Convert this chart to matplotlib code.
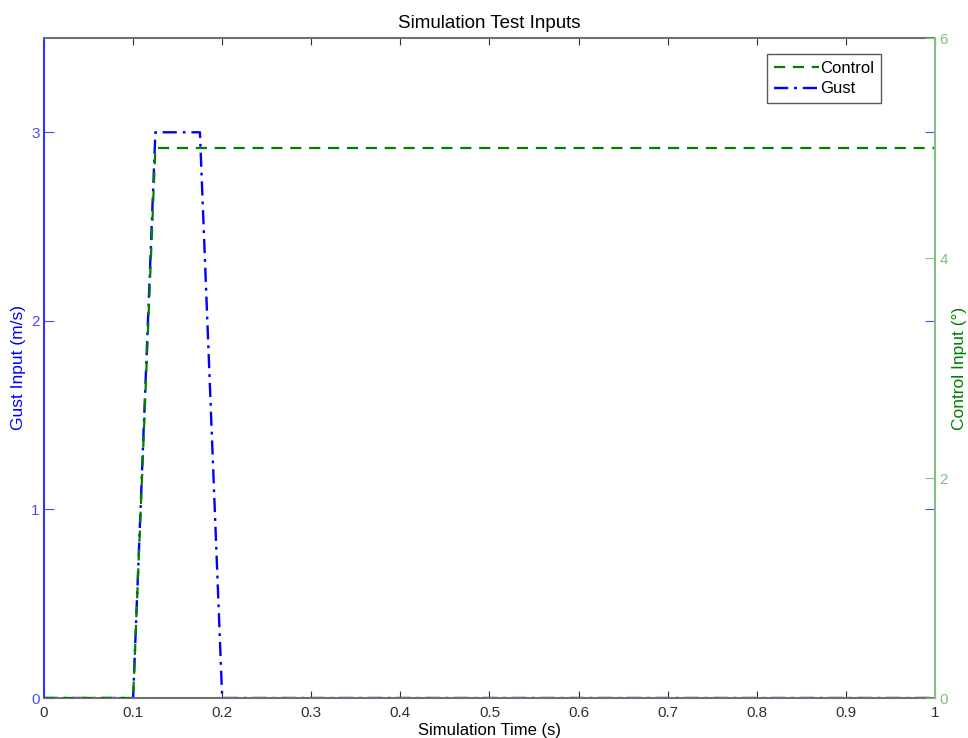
import matplotlib
matplotlib.use("Agg")
import matplotlib.pyplot as plt

plt.rcParams['font.family'] = ['Liberation Sans', 'DejaVu Sans']

time_gust = [0.0, 0.1, 0.125, 0.175, 0.2, 1.0]
gust = [0.0, 0.0, 3.0, 3.0, 0.0, 0.0]
time_ctrl = [0.0, 0.1, 0.125, 1.0]
control = [0.0, 0.0, 5.0, 5.0]
x_ticks = [0, 0.1, 0.2, 0.3, 0.4, 0.5, 0.6, 0.7, 0.8, 0.9, 1]
x_labels = ['0', '0.1', '0.2', '0.3', '0.4', '0.5', '0.6', '0.7', '0.8', '0.9', '1']
gust_ticks = [0, 1, 2, 3]
ctrl_ticks = [0, 2, 4, 6]

fig = plt.figure(figsize=(9.68, 7.38), dpi=100)
ax = fig.add_axes([44/968, 40/738, (935-44)/968, (698-38)/738])
ax2 = ax.twinx()

l_g, = ax.plot(time_gust, gust, color='#0000ff', linestyle='-.', lw=1.7,
               dashes=(6, 2.5, 1.2, 2.5), label='Gust')
l_c, = ax2.plot(time_ctrl, control, color='#008000', linestyle='--', lw=1.6,
                dashes=(5, 3.5), label='Control')

ax.set_xlim(0, 1)
ax.set_ylim(0, 3.5)
ax2.set_ylim(0, 6)

grey = '#707070'
blue_lt = '#4b4bff'
green_lt = '#80c080'

ax.set_xticks(x_ticks)
ax.set_xticklabels(x_labels)
ax.set_yticks(gust_ticks)
ax2.set_yticks(ctrl_ticks)

ax.tick_params(axis='x', direction='in', colors='#303030', length=5, top=True,
               labelsize=11, pad=6)
ax.tick_params(axis='y', direction='in', colors=blue_lt, length=7, right=False,
               labelsize=11, pad=3)
ax2.tick_params(axis='y', direction='in', colors=green_lt, length=7,
                labelsize=11, pad=3)

# mirror blue ticks on right side
axr = ax.secondary_yaxis('right')
axr.set_yticks(gust_ticks)
axr.tick_params(direction='in', colors=blue_lt, length=7, labelright=False)
axr.spines['right'].set_visible(False)

ax.spines['left'].set_color('#3333ff')
ax.spines['bottom'].set_color(grey)
ax.spines['top'].set_color(grey)
ax.spines['right'].set_visible(False)
ax2.spines['left'].set_visible(False)
ax2.spines['top'].set_visible(False)
ax2.spines['bottom'].set_visible(False)
ax2.spines['right'].set_color(green_lt)
for a in (ax, ax2):
    for s in a.spines.values():
        s.set_linewidth(1.5)

ax.set_title('Simulation Test Inputs', fontsize=13.5, pad=7)
ax.set_xlabel('Simulation Time (s)', fontsize=12, labelpad=2)
ax.set_ylabel('Gust Input (m/s)', fontsize=12.5, color='#0000ff', labelpad=3.5)
ax2.set_ylabel('Control Input (°)', fontsize=12.5, color='#008000', labelpad=3)

leg = ax.legend([l_c, l_g], ['Control', 'Gust'], loc='upper right',
                bbox_to_anchor=(0.939, 0.976), borderaxespad=0, fontsize=12,
                frameon=True, fancybox=False, edgecolor='#303030',
                handlelength=2.7, handletextpad=0.05, borderpad=0.4,
                labelspacing=0.35)
leg.get_frame().set_linewidth(1.0)

fig.savefig('out.png', dpi=100)
